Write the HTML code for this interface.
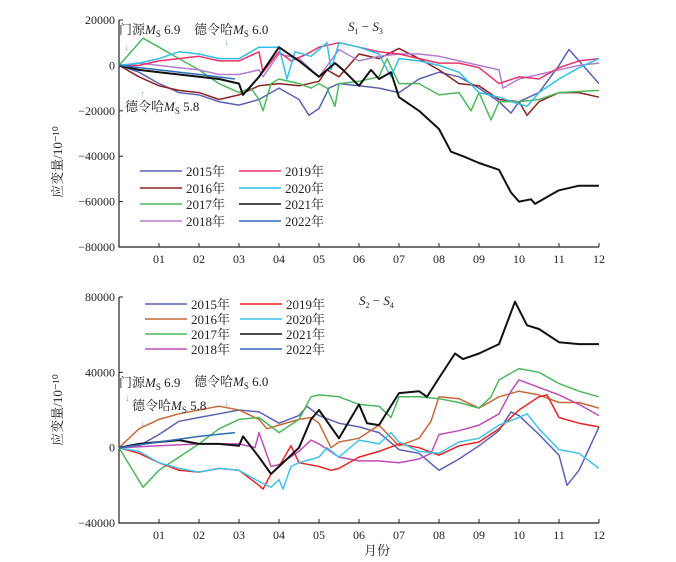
<!DOCTYPE html>
<html><head><meta charset="utf-8">
<style>
body{margin:0;background:#fff;}
svg{display:block;font-family:"Liberation Serif","Noto Serif CJK SC","Noto Sans CJK SC",serif;}
.t{font-size:12px;fill:#222;}
.lg{font-size:13px;fill:#222;}
.an{font-size:13px;fill:#222;}
.ar{font-size:10px;fill:#7aaee0;}
</style></head>
<body>
<svg id="c" width="676" height="562" viewBox="0 0 676 562">
</svg>
<script>
const years = ['2015年','2016年','2017年','2018年','2019年','2020年','2021年','2022年'];
const colorsTop = ['#5a62b3','#8b2323','#4cb85c','#b67ccf','#e8336b','#2fc0ea','#111111','#2a6fb8'];
const colorsBot = ['#5a62b3','#c4693a','#4cb85c','#c04cb8','#e82424','#3ec2ea','#111111','#2a6fb8'];
const monthTicks = ['01','02','03','04','05','06','07','08','09','10','11','12'];
const topYTicks = [20000,0,-20000,-40000,-60000,-80000];
const botYTicks = [80000,40000,0,-40000];
// top (S1-S3) series: [month, value in 1000 x 1e-10]
const top2015 = [[0,0],[.5,-3],[1,-8],[1.5,-12],[2,-13],[2.5,-16],[3,-17.5],[3.5,-15],[4,-10],[4.5,-15],[4.75,-22],[5,-19],[5.25,-10],[5.5,-8],[6,-9],[6.5,-10],[7,-12],[7.5,-6],[8,-3],[8.5,-5],[9,-10],[9.5,-16],[9.8,-21],[10,-16],[10.5,-12],[11,0],[11.25,7],[11.5,2],[12,-8]];
const top2016 = [[0,0],[.5,-5],[1,-9],[1.5,-11],[2,-12],[2.5,-15],[3,-13],[3.5,-9],[4,-8],[4.5,-9],[5,-7],[5.2,-2],[5.5,-5],[6,5],[6.5,3],[7,7.5],[7.5,3],[8,-2],[8.5,-8],[9,-9],[9.5,-15],[10,-16],[10.2,-22],[10.5,-16],[11,-12],[11.5,-12],[12,-14]];
const top2017 = [[0,0],[.6,12],[1,8],[1.5,3],[2,-2],[2.5,-8],[3,-12],[3.3,-10],[3.5,-15],[3.6,-20],[3.8,-8],[4,-6],[4.5,-8],[4.8,-10],[5,-8],[5.2,-10],[5.4,-18],[5.5,-8],[6,-7],[6.5,-5],[6.7,3],[7,-8],[7.5,-8],[8,-13],[8.5,-12],[8.8,-20],[9,-12],[9.3,-24],[9.5,-16],[10,-16],[10.5,-15],[11,-12],[12,-11]];
const top2018 = [[0,0],[.5,1],[1,0],[1.5,-1],[2,-2],[2.5,-4],[3,-4],[3.5,-2],[3.6,-5],[4,5],[4.5,3],[5,-5],[5.5,7],[6,2],[6.5,4],[7,5],[7.5,5],[8,4],[8.5,2],[9,0],[9.5,-2],[9.6,-10],[10,-6],[10.5,-4],[11,-2],[11.5,0],[12,1]];
const top2019 = [[0,0],[.5,0],[1,2],[1.5,3],[2,4],[2.5,2],[3,2],[3.5,6],[3.6,-3],[4,6],[4.3,2],[4.7,5],[5,8],[5.5,10],[6,8],[6.5,6],[7,5],[7.5,3],[8,1],[8.5,1],[9,-1],[9.5,-8],[10,-5],[10.5,-6],[11,-1],[11.5,2],[12,3]];
const top2020 = [[0,0],[.5,1],[1,3],[1.5,6],[2,5],[2.5,3],[3,3],[3.5,8],[4,8],[4.2,-6],[4.4,6],[4.8,4],[5,7],[5.2,10],[5.3,-2],[5.5,10],[6,8],[6.5,5],[6.8,-5],[7,3],[7.5,2],[8,0],[8.5,-3],[9,-12],[9.5,-14],[10,-17],[10.2,-18],[10.5,-12],[11,-6],[11.5,-1],[12,3]];
const top2021 = [[0,0],[.5,-2],[1,-3],[1.5,-4],[2,-5],[2.5,-6],[3,-8],[3.1,-13],[3.5,-5],[4,8],[4.5,2],[5,-5],[5.4,1],[5.6,-2],[6,-9],[6.3,-2],[6.5,-6],[6.8,-3],[7,-14],[7.5,-20],[8,-28],[8.3,-38],[8.6,-40],[9,-43],[9.5,-46],[9.8,-56],[10,-60],[10.3,-59],[10.4,-61],[10.8,-57],[11,-55],[11.5,-53],[12,-53]];
const top2022 = [[0,0],[1,-2],[2,-4],[2.9,-6]];
// bottom (S2-S4) series
const bot2015 = [[0,0],[.5,1],[1,7],[1.5,14],[2,16],[2.5,18],[3,20],[3.5,19],[4,13],[4.5,17],[4.7,22],[5,17],[5.5,13],[6,11],[6.5,8],[7,-1],[7.5,-3],[8,-12],[8.5,-6],[9,1],[9.5,9],[9.8,19],[10,17],[10.5,7],[11,-4],[11.2,-20],[11.5,-12],[12,11]];
const bot2016 = [[0,0],[.5,10],[1,15],[1.5,18],[2,20],[2.5,22],[3,20],[3.5,15],[3.7,10],[4,12],[4.5,15],[4.8,16],[5,13],[5.3,0],[5.5,3],[6,5],[6.5,12],[7,1],[7.5,5],[7.8,14],[8,27],[8.5,26],[9,21],[9.5,27],[10,30],[10.5,28],[11,24],[11.5,24],[12,21]];
const bot2017 = [[0,0],[.6,-21],[1,-12],[1.5,-5],[2,2],[2.5,10],[3,15],[3.5,16],[4,8],[4.5,15],[4.8,27],[5,28],[5.5,27],[6,23],[6.5,22],[6.8,16],[7,27],[7.5,27],[8,26],[8.5,24],[9,21],[9.3,27],[9.5,36],[10,42],[10.5,40],[11,34],[11.5,30],[12,27]];
const bot2018 = [[0,0],[1,1],[2,2],[3,2],[3.4,0],[3.5,8],[3.8,-10],[4,-9],[4.5,-2],[4.8,4],[5,2],[5.5,-5],[6,-7],[6.5,-7],[7,-8],[7.5,-6],[7.8,-3],[8,7],[8.5,9],[9,12],[9.5,18],[9.8,30],[10,36],[10.5,32],[11,28],[11.5,23],[12,17]];
const bot2019 = [[0,0],[.5,-3],[1,-8],[1.5,-12],[2,-13],[2.5,-11],[3,-12],[3.5,-20],[3.6,-22],[3.8,-14],[4,-10],[4.3,1],[4.5,-8],[5,-10],[5.3,-12],[5.5,-11],[6,-5],[6.5,-2],[7,2],[7.5,0],[8,-4],[8.5,1],[9,3],[9.5,10],[10,20],[10.5,27],[10.7,28],[11,16],[11.5,13],[12,11]];
const bot2020 = [[0,0],[.5,-2],[1,-8],[1.5,-11],[2,-13],[2.5,-11],[3,-12],[3.5,-18],[3.8,-21],[4,-17],[4.1,-22],[4.3,-10],[4.5,-8],[5,-5],[5.2,0],[5.5,-5],[6,4],[6.5,2],[6.8,8],[7,3],[7.5,-2],[8,-3],[8.5,3],[9,5],[9.5,12],[10,16],[10.2,18],[10.5,10],[11,-1],[11.5,-3],[12,-11]];
const bot2021 = [[0,0],[.5,2],[1,3],[1.5,4],[2,2],[2.5,2],[3,1],[3.1,6],[3.5,-5],[3.8,-14],[4,-10],[4.5,0],[4.8,15],[5,20],[5.5,5],[6,23],[6.2,13],[6.5,12],[7,29],[7.5,30],[7.7,27],[8,37],[8.4,50],[8.6,47],[9,50],[9.5,55],[9.9,77.5],[10.2,65],[10.5,63],[11,56],[11.5,55],[12,55]];
const bot2022 = [[0,0],[1,3],[2,6],[2.9,8]];

const topSeries=[top2015,top2016,top2017,top2018,top2019,top2020,top2021,top2022];
const botSeries=[bot2015,bot2016,bot2017,bot2018,bot2019,bot2020,bot2021,bot2022];
const svg=document.getElementById('c');
const NS='http://www.w3.org/2000/svg';
function mk(tag,attrs,parent,text){const e=document.createElementNS(NS,tag);for(const k in attrs)e.setAttribute(k,attrs[k]);if(text!==undefined)e.textContent=text;(parent||svg).appendChild(e);return e;}
function panel(p){
  const g=mk('g',{});
  
  
  const x=m=>p.x0+m*(p.x1-p.x0)/12;
  const y=v=>p.yTop+(p.max-v)*(p.yBot-p.yTop)/(p.max-p.min);
  const ax=mk('path',{d:`M${p.x0},${p.yTop}V${p.yBot}H${p.x1}`,stroke:'#222','stroke-width':1.2,fill:'none'},g);
  
  
  p.yticks.forEach(v=>{
    mk('line',{x1:p.x0,x2:p.x0+4,y1:y(v),y2:y(v),stroke:'#222'},g);
    const t=mk('text',{x:p.x0-4,y:y(v)+4,'text-anchor':'end',class:'t'},g,v<0?'−'+(-v):String(v));
    
    
  });
  monthTicks.forEach((l,i)=>{
    const xx=x(i+1);
    mk('line',{x1:xx,x2:xx,y1:p.yBot,y2:p.yBot-4,stroke:'#222'},g);
    const t=mk('text',{x:xx,y:p.yBot+16,'text-anchor':'middle',class:'t'},g,l);
    
    
  });
  p.series.forEach((s,i)=>{
    const pl=mk('polyline',{points:s.map(d=>x(d[0]).toFixed(1)+','+y(d[1]*1000).toFixed(1)).join(' '),fill:'none',stroke:p.colors[i],'stroke-width':i==6?2:1.5,'stroke-linejoin':'round'},g);
    
    
  });
  years.forEach((yr,i)=>{
    const col=i<4?0:1,row=i%4;
    const lx=p.lgX[col],ly=p.lgY[row];
    const ll=mk('line',{x1:lx,x2:lx+42,y1:ly,y2:ly,stroke:p.colors[i],'stroke-width':1.5},g);
    
    
    const t=mk('text',{x:lx+46,y:ly+5,class:'lg'},g,yr);
    
    
  });
  const yl=mk('text',{x:0,y:0,class:'lg','text-anchor':'middle',transform:`translate(${p.x0-57},${p.ylY}) rotate(-90)`},g,'应变量/10⁻¹⁰');
  
  
}
panel({name:'top-panel-s1-s3',x0:119,x1:599,yTop:20,yBot:247,max:20000,min:-80000,yticks:topYTicks,series:topSeries,colors:colorsTop,lgX:[140,239],lgY:[171,188,204,221],ylY:162});
panel({name:'bottom-panel-s2-s4',x0:119,x1:599,yTop:297,yBot:523,max:80000,min:-40000,yticks:botYTicks,series:botSeries,colors:colorsBot,lgX:[145,240],lgY:[304,319,334,349],ylY:410});
function txt(x,y,html,cls,name){const t=mk('text',{x:x,y:y,class:cls});t.innerHTML=html;return t;}
const ms='<tspan font-style="italic">M</tspan><tspan font-size="9" dy="3">S</tspan><tspan dy="-3"> ';
txt(119,34,'门源'+ms+'6.9</tspan>','an','annotation-menyuan');
txt(194,34,'德令哈'+ms+'6.0</tspan>','an','annotation-delingha-60');
txt(125,111,'德令哈'+ms+'5.8</tspan>','an','annotation-delingha-58');
txt(124,50,'↓','ar','arrow');txt(224,45,'↓','ar','arrow');txt(140,97,'↑','ar','arrow');
txt(348,31,'<tspan font-style="italic">S</tspan><tspan font-size="8" dy="3">1</tspan><tspan dy="-3"> − </tspan><tspan font-style="italic">S</tspan><tspan font-size="8" dy="3">3</tspan>','an','title-s1-s3');
txt(119,387,'门源'+ms+'6.9</tspan>','an','annotation-menyuan');
txt(194,386,'德令哈'+ms+'6.0</tspan>','an','annotation-delingha-60');
txt(132,410,'德令哈'+ms+'5.8</tspan>','an','annotation-delingha-58');
txt(125,401,'↓','ar','arrow');txt(140,426,'↓','ar','arrow');txt(224,406,'↓','ar','arrow');
txt(359,305,'<tspan font-style="italic">S</tspan><tspan font-size="8" dy="3">2</tspan><tspan dy="-3"> − </tspan><tspan font-style="italic">S</tspan><tspan font-size="8" dy="3">4</tspan>','an','title-s2-s4');
txt(364,555,'月份','an','x-axis-title');
</script>
</body></html>
